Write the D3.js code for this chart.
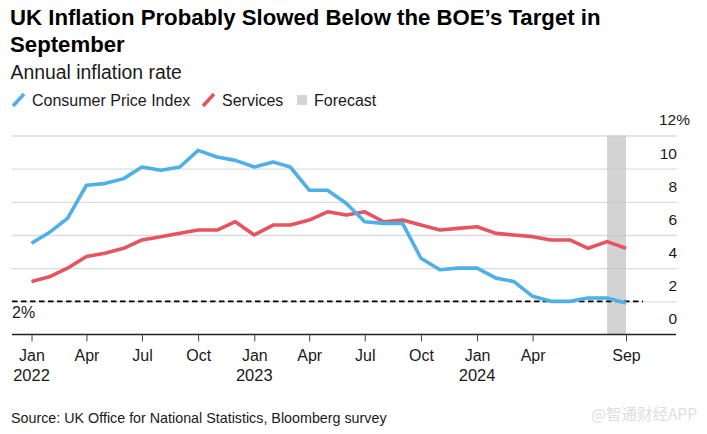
<!DOCTYPE html>
<html>
<head>
<meta charset="utf-8">
<script src="https://cdn.jsdelivr.net/npm/d3@7"></script>
<style>
	html,body{margin:0;padding:0;background:#fff;}
	svg{display:block;}
	text{font-family:"Liberation Sans",Arial,sans-serif;fill:#1a1a1a;}
</style>
</head>
<body>
<svg width="707" height="434"></svg>
<script>
var months=["2022-01","2022-02","2022-03","2022-04","2022-05","2022-06","2022-07","2022-08","2022-09","2022-10","2022-11","2022-12",
	"2023-01","2023-02","2023-03","2023-04","2023-05","2023-06","2023-07","2023-08","2023-09","2023-10","2023-11","2023-12",
	"2024-01","2024-02","2024-03","2024-04","2024-05","2024-06","2024-07","2024-08","2024-09"];
var cpi=[5.5,6.2,7.0,9.0,9.1,9.4,10.1,9.9,10.1,11.1,10.7,10.5,10.1,10.4,10.1,8.7,8.7,7.9,6.8,6.7,6.7,4.6,3.9,4.0,4.0,3.4,3.2,2.3,2.0,2.0,2.2,2.2,1.9];
var services=[3.2,3.5,4.0,4.7,4.9,5.2,5.7,5.9,6.1,6.3,6.3,6.8,6.0,6.6,6.6,6.9,7.4,7.2,7.4,6.8,6.9,6.6,6.3,6.4,6.5,6.1,6.0,5.9,5.7,5.7,5.2,5.6,5.2];
var xTicks=["2022-01","2022-04","2022-07","2022-10","2023-01","2023-04","2023-07","2023-10","2024-01","2024-04","2024-09"];
var xTickLabels=["Jan","Apr","Jul","Oct","Jan","Apr","Jul","Oct","Jan","Apr","Sep"];
var yearLabels=[["2022-01","2022"],["2023-01","2023"],["2024-01","2024"]];
var yTicks=[0,2,4,6,8,10,12];
var forecast=["2024-08","2024-09"];
var target=2;

var parse=d3.timeParse("%Y-%m");
var svg=d3.select("svg");

var scalex=d3.scaleTime()
	.domain([parse("2022-01"),parse("2024-09")])
	.range([31.5,626]);
var scaley=d3.scaleLinear()
	.domain([0,12])
	.range([334.5,135.5]);

// Titles
svg.append("text").attr("x",10).attr("y",25).text("UK Inflation Probably Slowed Below the BOE\u2019s Target in")
	.style("font-size","22.2px").style("font-weight","bold").style("fill","#000");
svg.append("text").attr("x",10).attr("y",52).text("September")
	.style("font-size","22.2px").style("font-weight","bold").style("fill","#000");
svg.append("text").attr("x",10.5).attr("y",79).text("Annual inflation rate").style("font-size","19.4px");

// Handmade legend
svg.append("line").attr("x1",13).attr("y1",106).attr("x2",24).attr("y2",94).attr("stroke","#4eb0e5").attr("stroke-width",3.5);
svg.append("text").attr("x",32).attr("y",105.5).text("Consumer Price Index").style("font-size","16px");
svg.append("line").attr("x1",203).attr("y1",106).attr("x2",214).attr("y2",94).attr("stroke","#e6555f").attr("stroke-width",3.5);
svg.append("text").attr("x",222).attr("y",105.5).text("Services").style("font-size","16px");
svg.append("rect").attr("x",297).attr("y",95).attr("width",10).attr("height",10).attr("fill","#d4d4d4");
svg.append("text").attr("x",314).attr("y",105.5).text("Forecast").style("font-size","16px");

// y axis, labels sit above the gridlines
var yaxis=d3.axisLeft(scaley)
	.tickValues(yTicks)
	.tickSize(665)
	.tickFormat(d=>d==12?d+"%":d);
var gy=svg.append("g")
	.attr("transform","translate(677,0)")
	.call(yaxis);
gy.select(".domain").remove();
gy.selectAll(".tick line").attr("stroke","#dcdcdc").attr("stroke-width",1.3);
gy.selectAll(".tick").filter(d=>d==0).select("line").remove();
gy.selectAll(".tick text")
	.attr("x",d=>d==12?13:0)
	.attr("y",-16)
	.attr("dy","0.35em")
	.attr("text-anchor","end")
	.style("font-size","15.5px");

// Forecast band
svg.append("rect")
	.attr("x",scalex(parse(forecast[0])))
	.attr("y",scaley(12))
	.attr("width",scalex(parse(forecast[1]))-scalex(parse(forecast[0])))
	.attr("height",scaley(0)-scaley(12))
	.attr("fill","#c8c8c8")
	.attr("opacity",0.8);

// 2% target
svg.append("line")
	.attr("x1",12).attr("x2",643)
	.attr("y1",scaley(target)).attr("y2",scaley(target))
	.attr("stroke","#000").attr("stroke-width",1.7)
	.attr("stroke-dasharray","5.5,3.5");
svg.append("text").attr("x",12).attr("y",317.5).text(target+"%").style("font-size","16px");

// x axis
var xaxis=d3.axisBottom(scalex)
	.tickValues(xTicks.map(parse))
	.tickSize(7)
	.tickPadding(8)
	.tickFormat((d,i)=>xTickLabels[i]);
var gx=svg.append("g")
	.attr("transform","translate(0,334.5)")
	.call(xaxis);
gx.select(".domain").attr("d","M12,0H676").attr("stroke","#222").attr("stroke-width",1.3);
gx.selectAll(".tick line").attr("stroke","#444");
gx.selectAll(".tick text").style("font-size","16px").attr("fill","#1a1a1a");

svg.selectAll(".year")
	.data(yearLabels)
	.enter()
	.append("text")
	.classed("year",true)
	.attr("x",d=>scalex(parse(d[0])))
	.attr("y",381)
	.attr("text-anchor","middle")
	.text(d=>d[1])
	.style("font-size","16.5px");

// Lines
var line=d3.line()
	.x((d,i)=>scalex(parse(months[i])))
	.y(d=>scaley(d));

svg.append("path").datum(services)
	.attr("d",line).attr("fill","none")
	.attr("stroke","#e6555f").attr("stroke-width",3.6).attr("stroke-linejoin","round");
svg.append("path").datum(cpi)
	.attr("d",line).attr("fill","none")
	.attr("stroke","#4eb0e5").attr("stroke-width",3.6).attr("stroke-linejoin","round");

// Source and watermark
svg.append("text").attr("x",11).attr("y",423).text("Source: UK Office for National Statistics, Bloomberg survey").style("font-size","14.3px");
svg.append("text").attr("x",697).attr("y",420).attr("text-anchor","end").text("@智通财经APP")
	.style("font-family","'Noto Sans CJK SC'").style("font-size","15.5px").style("fill","#dedede");
</script>
</body>
</html>
